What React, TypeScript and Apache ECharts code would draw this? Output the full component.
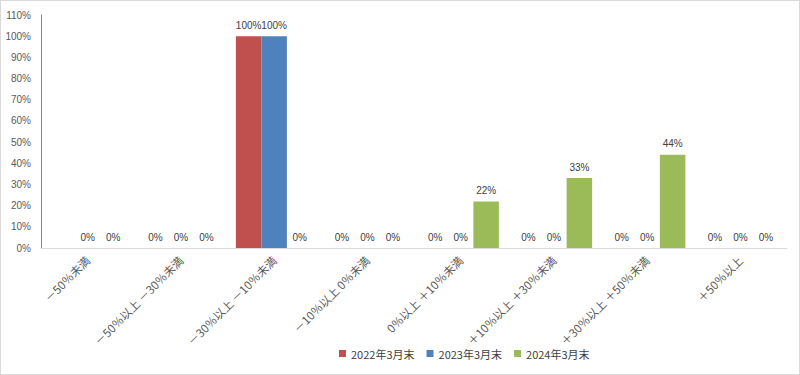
import React, { useEffect, useRef } from "react";
import * as echarts from "echarts";

const categories = [
  "－50％未満",
  "－50％以上 －30％未満",
  "－30％以上 －10％未満",
  "－10％以上 0％未満",
  "0％以上 ＋10％未満",
  "＋10％以上 ＋30％未満",
  "＋30％以上 ＋50％未満",
  "＋50％以上",
];
const seriesNames = ["2022年3月末", "2023年3月末", "2024年3月末"];
const values2022: (number | string)[] = ["-", 0, 100, 0, 0, 0, 0, 0];
const values2023: (number | string)[] = [0, 0, 100, 0, 0, 0, 0, 0];
const values2024: (number | string)[] = [0, 0, 0, 0, 22, 33, 44, 0];
const colors = ["#C0504D", "#4F81BD", "#9BBB59"];

export default function App() {
  const ref = useRef<HTMLDivElement>(null);
  useEffect(() => {
    if (!ref.current) return;
    const chart = echarts.init(ref.current, null, { renderer: "svg" });
    const labelStyle = {
      show: true,
      position: "top" as const,
      formatter: "{c}%",
      fontSize: 10,
      color: "#404040",
      fontFamily: "Liberation Sans, Arial, sans-serif",
      distance: 6,
    };
    const data = [values2022, values2023, values2024];
    chart.setOption({
      animation: false,
      backgroundColor: "#ffffff",
      color: colors,
      grid: { left: 40, right: 12, top: 14, bottom: 126, containLabel: false },
      legend: {
        bottom: 10,
        left: 333,
        icon: "rect",
        itemWidth: 7,
        itemHeight: 7,
        itemGap: 12,
        textStyle: {
          fontSize: 11,
          color: "#404040",
          fontFamily: "Noto Sans CJK JP, sans-serif",
        },
        data: seriesNames,
      },
      xAxis: {
        type: "category",
        data: categories,
        axisLine: { lineStyle: { color: "#d9d9d9", width: 1 } },
        axisTick: { show: false },
        axisLabel: {
          rotate: 45,
          interval: 0,
          fontSize: 11.5,
          color: "#595959",
          margin: 10,
          fontFamily: "Noto Sans CJK JP, sans-serif",
        },
      },
      yAxis: {
        type: "value",
        min: 0,
        max: 110,
        interval: 10,
        splitLine: { show: false },
        axisLine: { show: true, lineStyle: { color: "#868686", width: 1 } },
        axisTick: { show: false },
        axisLabel: {
          formatter: "{value}%",
          fontSize: 10,
          color: "#595959",
          margin: 10,
          fontFamily: "Liberation Sans, Arial, sans-serif",
        },
      },
      series: seriesNames.map((name, i) => ({
        name,
        type: "bar",
        data: data[i],
        barWidth: 25.5,
        barGap: "0%",
        label: labelStyle,
        itemStyle: { color: colors[i] },
      })),
    });
    return () => chart.dispose();
  }, []);
  return (
    <div
      style={{
        position: "fixed",
        left: 0,
        top: 0,
        width: 800,
        height: 375,
        boxSizing: "border-box",
        border: "1px solid #d9d9d9",
        background: "#fff",
      }}
    >
      <div ref={ref} style={{ width: 798, height: 373 }} />
    </div>
  );
}
